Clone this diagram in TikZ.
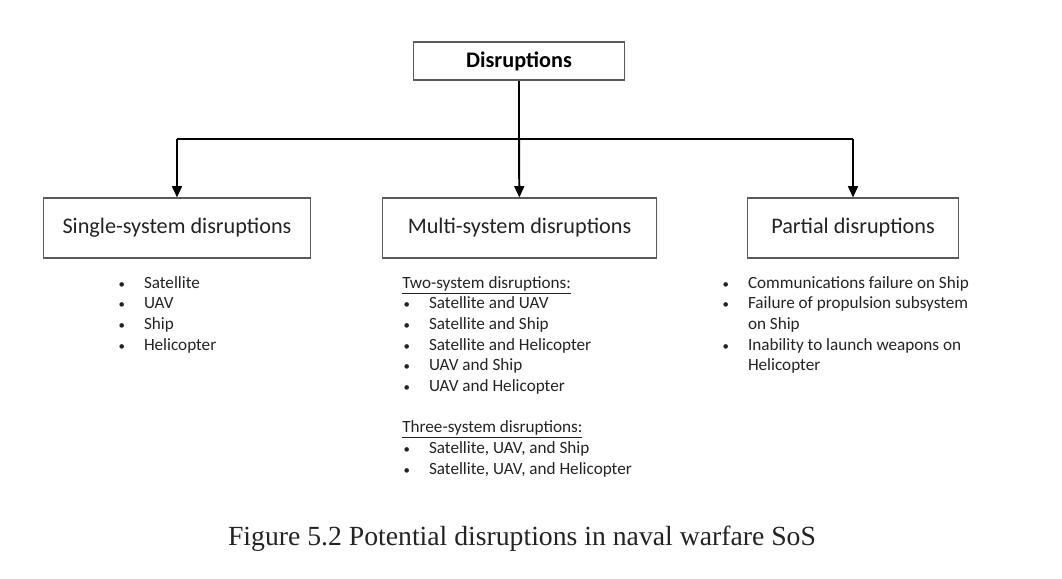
\documentclass[tikz,border=0pt]{standalone}
\usepackage{fontspec}
\setmainfont{Carlito}
\newfontfamily\figcapfont{Liberation Serif}
\usepackage{xcolor}
\usetikzlibrary{arrows.meta, positioning}
\definecolor{boxgray}{RGB}{90,90,90}
\definecolor{txtgray}{RGB}{35,35,35}
\newcommand{\bul}[1]{\makebox[19pt][l]{\hspace{1pt}\scalebox{0.75}{\textbullet}}#1}
\newcommand{\cont}[1]{\hspace*{19pt}#1}

\begin{document}
\begin{tikzpicture}[x=0.025cm, y=-0.025cm,
        catbox/.style={draw=boxgray, line width=0.9pt, minimum height=60*0.709pt, inner sep=0pt, text=txtgray, font=\fontsize{15.8}{18}\selectfont},
        itemlist/.style={inner sep=0pt, anchor=north west, align=left, text=txtgray, font=\fontsize{12.2}{14.7}\selectfont},
        arr/.style={line width=1.4pt, -{Triangle[length=8pt, width=7pt]}}]
        \useasboundingbox (0,0) rectangle (1062,578);

        \node[draw=boxgray, line width=0.9pt, minimum width=212*0.709pt, minimum height=38*0.709pt, font=\bfseries\fontsize{15.8}{18}\selectfont] (root) at (519,61) {Disruptions};
        \node[catbox, minimum width=268*0.709pt] (single) at (177,228) {Single-system disruptions};
        \node[catbox, minimum width=275*0.709pt] (multi) at (519.5,228) {Multi-system disruptions};
        \node[catbox, minimum width=212*0.709pt] (partial) at (853,228) {Partial disruptions};
        \coordinate (split) at (519,139);

        % bullet lists under the boxes
        \node[itemlist] (singlelist) at (117,276) {\bul{Satellite}\\ \bul{UAV}\\ \bul{Ship}\\ \bul{Helicopter}};
        \node[itemlist] (multilist) at (402,276) {\underline{Two-system disruptions:}\\ \bul{Satellite and UAV}\\ \bul{Satellite and Ship}\\ \bul{Satellite and Helicopter}\\ \bul{UAV and Ship}\\ \bul{UAV and Helicopter}\\[14.7pt]
            \underline{Three-system disruptions:}\\ \bul{Satellite, UAV, and Ship}\\ \bul{Satellite, UAV, and Helicopter}};
        \node[itemlist] (partiallist) at (721,276) {\bul{Communications failure on Ship}\\ \bul{Failure of propulsion subsystem}\\ \cont{on Ship}\\ \bul{Inability to launch weapons on}\\ \cont{Helicopter}};

        \node[font=\figcapfont\fontsize{19.7}{22}\selectfont, text=txtgray, inner sep=0pt] (caption) at (522,539) {Figure 5.2 Potential disruptions in naval warfare SoS};

        \draw[line width=1.4pt] (root) -- (split);
        \draw[line width=1.4pt] (single.north |- split) -- (partial.north |- split);
        \draw[arr] (single.north |- split) -- (single);
        \draw[arr] (split) -- (multi);
        \draw[arr] (partial.north |- split) -- (partial);
\end{tikzpicture}
\end{document}
